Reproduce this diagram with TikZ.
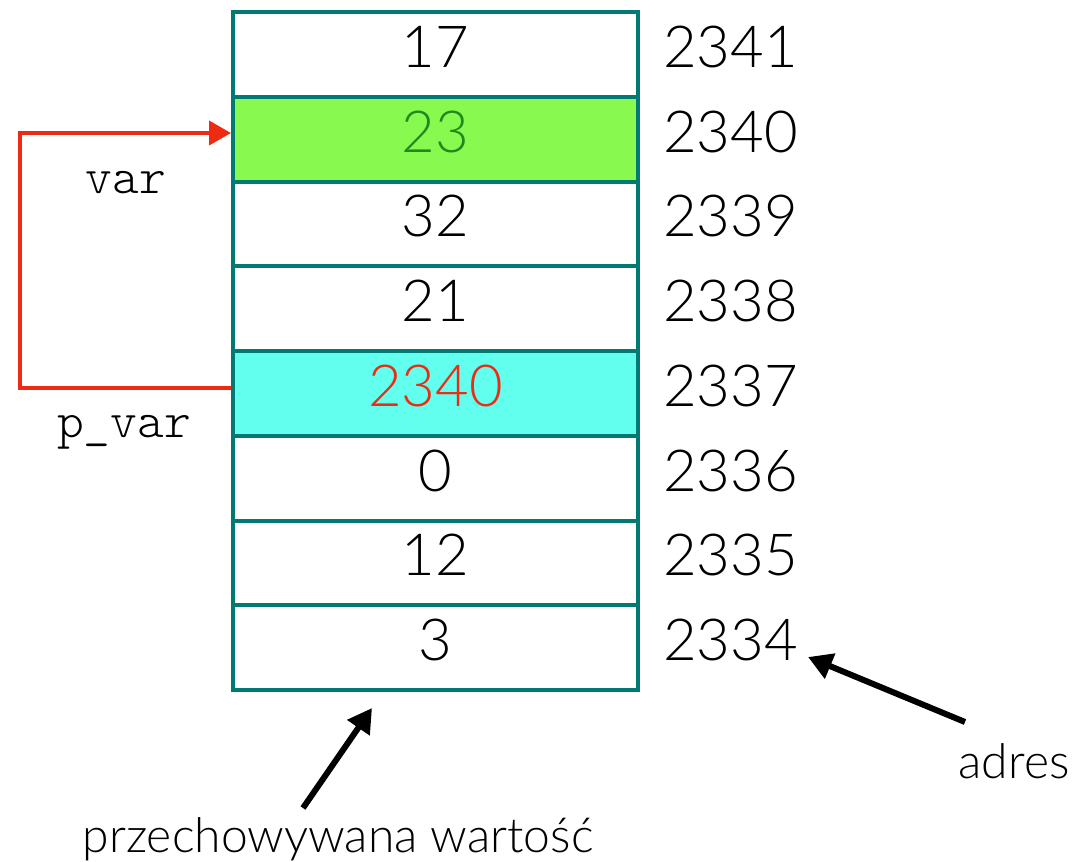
\documentclass[tikz,border=0pt]{standalone}
\usepackage{fontspec}
\setmainfont{Lato Light}
\setmonofont{Latin Modern Mono Light}
\usetikzlibrary{arrows.meta}
\definecolor{teal1}{HTML}{007A73}
\definecolor{redA}{HTML}{EE2A12}
\definecolor{greenF}{HTML}{88F94E}
\definecolor{greenT}{HTML}{1E8A1E}
\definecolor{cyanF}{HTML}{62FFEE}
\begin{document}
\begin{tikzpicture}[x=1pt,y=-1pt,
  cell/.style={draw=teal1,line width=4pt,minimum width=405pt,minimum height=84.75pt,inner sep=0pt,text depth=16pt,font=\fontsize{58}{60}\selectfont,anchor=center},
  addr/.style={anchor=west,inner sep=0pt,text depth=16pt,font=\fontsize{58}{60}\selectfont},
  lbl/.style={inner sep=0pt,font=\fontsize{48}{50}\selectfont},
  mono/.style={inner sep=0pt,font=\ttfamily\fontsize{51}{52}\selectfont},
  blk/.style={line width=6pt,-{Triangle[length=24pt,width=26pt]}},
  redarr/.style={draw=redA,line width=4pt,-{Triangle[length=22pt,width=24pt]}}]
\useasboundingbox (0,0) rectangle (1077,862);
\foreach \i/\a in {0/2341,1/2340,2/2339,3/2338,4/2337,5/2336,6/2335,7/2334}{
  \coordinate (c\i) at (435.5,{54.5+84.75*\i});
  \node[addr] (a\i) at (663,{54.5+84.75*\i}) {\a};
}
\node[cell] (r0) at (c0) {17};
\node[cell,fill=greenF,text=greenT] (r1) at (c1) {23};
\node[cell] (r2) at (c2) {32};
\node[cell] (r3) at (c3) {21};
\node[cell,fill=cyanF,text=redA] (r4) at (c4) {2340};
\node[cell] (r5) at (c5) {0};
\node[cell] (r6) at (c6) {12};
\node[cell] (r7) at (c7) {3};
\node[mono,anchor=base] (var) at (126,193) {var};
\node[mono,anchor=base] (pvar) at (124,437) {p\_var};
\node[lbl,anchor=base] (adres) at (1014,778) {adres};
\node[lbl,anchor=base] (prz) at (338,852) {przechowywana wartość};
\coordinate (turn1) at (20,388);
\coordinate (turn2) at (20,133);
\draw[redarr] (r4.west |- turn1) -- (turn1) -- (turn2) -- (r1.west |- turn2);
\coordinate (adrtail) at (965,722);
\coordinate (adrhead) at (808,657);
\coordinate (prztail) at (303,808);
\coordinate (przhead) at (372,708);
\draw[blk] (adrtail) -- (adrhead);
\draw[blk] (prztail) -- (przhead);
\end{tikzpicture}
\end{document}
